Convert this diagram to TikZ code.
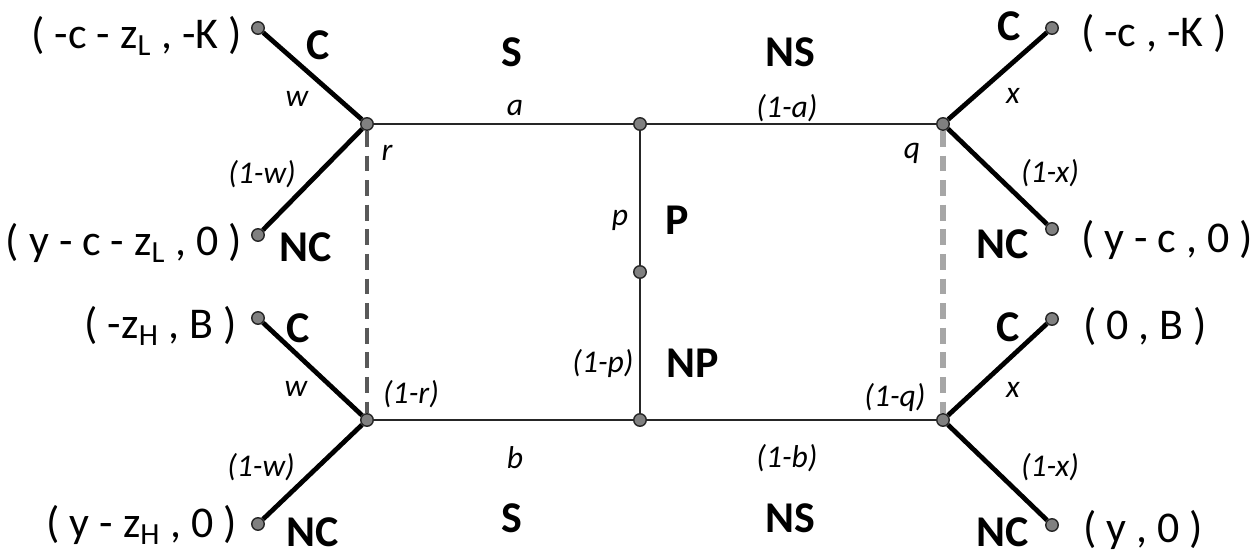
\documentclass[tikz,border=0pt]{standalone}
\usepackage{fontspec}
\setmainfont{Carlito}
\usetikzlibrary{positioning}

\begin{document}
\begin{tikzpicture}[x=0.02cm,y=-0.02cm,
  dot/.style={draw=black!85,circle,fill=gray,inner sep=0pt,minimum size=0.25cm,line width=0.8pt},
  edge/.style={line width=1.5pt,black!85},
  branch/.style={line width=2.7pt},
  prob/.style={font=\fontsize{18}{20}\selectfont\itshape},
  act/.style={font=\fontsize{25}{28}\selectfont\bfseries},
  pay/.style={font=\fontsize{25}{28}\selectfont}]
  \useasboundingbox (0,0) rectangle (1257,558);
  % decision nodes
  \node[dot] (r) at (367,124) {};
  \node[dot] (mt) at (640,124) {};
  \node[dot] (q) at (943,124) {};
  \node[dot] (mid) at (640,272) {};
  \node[dot] (rb) at (367,420) {};
  \node[dot] (mb) at (640,420) {};
  \node[dot] (qb) at (943,420) {};
  % end nodes
  \node[dot] (rC) at (258,28) {};
  \node[dot] (rNC) at (258,235) {};
  \node[dot] (rbC) at (258,318) {};
  \node[dot] (rbNC) at (258,524) {};
  \node[dot] (qC) at (1052,28) {};
  \node[dot] (qNC) at (1052,229) {};
  \node[dot] (qbC) at (1052,319) {};
  \node[dot] (qbNC) at (1052,525) {};
  % information sets
  \draw[black!65,line width=2pt,dash pattern=on 9pt off 5pt] (r) -- (rb);
  \draw[gray!70,line width=3.4pt,dash pattern=on 9pt off 5pt] (q) -- (qb);
  % frame
  \draw[edge] (r) -- (mt);
  \draw[edge] (mt) -- (q);
  \draw[edge] (rb) -- (mb);
  \draw[edge] (mb) -- (qb);
  \draw[edge] (mt) -- (mid);
  \draw[edge] (mid) -- (mb);
  % branches
  \draw[branch] (r) -- (rC);
  \draw[branch] (r) -- (rNC);
  \draw[branch] (rb) -- (rbC);
  \draw[branch] (rb) -- (rbNC);
  \draw[branch] (q) -- (qC);
  \draw[branch] (q) -- (qNC);
  \draw[branch] (qb) -- (qbC);
  \draw[branch] (qb) -- (qbNC);
  % payoffs
  \node[pay,anchor=east] (p1) at (248,36) {( -c - z\textsubscript{L} , -K )};
  \node[pay,anchor=east] (p2) at (248,243) {( y - c - z\textsubscript{L} , 0 )};
  \node[pay,anchor=east] (p3) at (243,326) {( -z\textsubscript{H} , B )};
  \node[pay,anchor=east] (p4) at (243,525) {( y - z\textsubscript{H} , 0 )};
  \node[pay,anchor=west] (p5) at (1075,33) {( -c , -K )};
  \node[pay,anchor=west] (p6) at (1075,240) {( y - c , 0 )};
  \node[pay,anchor=west] (p7) at (1077,326) {( 0 , B )};
  \node[pay,anchor=west] (p8) at (1077,530) {( y , 0 )};
  % actions
  \node[act] (sT) at (512,52) {S};
  \node[act] (nsT) at (790,52) {NS};
  \node[act] (sB) at (512,518) {S};
  \node[act] (nsB) at (790,518) {NS};
  \node[act] (pP) at (677,220) {P};
  \node[act] (pNP) at (693,363) {NP};
  \node[act] (c1) at (318,45) {C};
  \node[act] (nc1) at (306,247) {NC};
  \node[act] (c2) at (298,328) {C};
  \node[act] (nc2) at (313,532) {NC};
  \node[act] (c3) at (1009,26) {C};
  \node[act] (nc3) at (1003,244) {NC};
  \node[act] (c4) at (1008,327) {C};
  \node[act] (nc4) at (1003,532) {NC};
  % probabilities
  \node[prob] (la) at (515,108) {a};
  \node[prob] (l1a) at (787,108) {(1-a)};
  \node[prob] (lb) at (515,458) {b};
  \node[prob] (l1b) at (787,458) {(1-b)};
  \node[prob] (lp) at (620,220) {p};
  \node[prob] (l1p) at (603,363) {(1-p)};
  \node[prob] (lr) at (387,153) {r};
  \node[prob] (l1r) at (411,394) {(1-r)};
  \node[prob] (lq) at (912,153) {q};
  \node[prob] (l1q) at (895,397) {(1-q)};
  \node[prob] (lw) at (297,99) {w};
  \node[prob] (l1w) at (262,174) {(1-w)};
  \node[prob] (lw2) at (296,389) {w};
  \node[prob] (l1w2) at (261,467) {(1-w)};
  \node[prob] (lx) at (1013,96) {x};
  \node[prob] (l1x) at (1050,173) {(1-x)};
  \node[prob] (lx2) at (1013,390) {x};
  \node[prob] (l1x2) at (1050,467) {(1-x)};
\end{tikzpicture}
\end{document}
